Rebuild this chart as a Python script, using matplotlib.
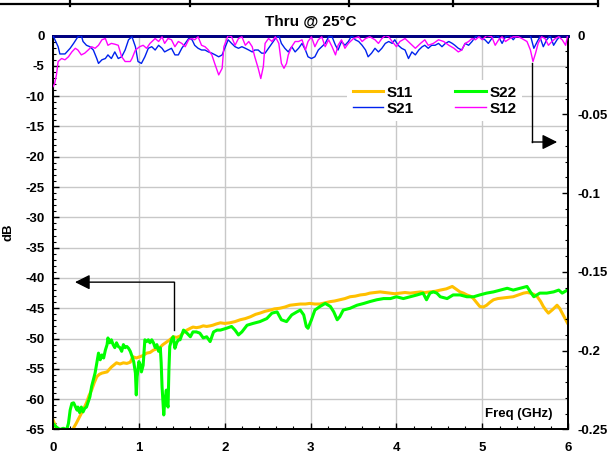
import matplotlib
matplotlib.use("Agg")
import matplotlib.pyplot as plt
from matplotlib.lines import Line2D
from matplotlib.ticker import MultipleLocator, FuncFormatter

plt.rcParams['font.family'] = ['Liberation Sans', 'DejaVu Sans']
plt.rcParams['font.weight'] = 'bold'
plt.rcParams['axes.unicode_minus'] = False

title = "Thru @ 25°C"
x_label = "Freq (GHz)"
y_label = "dB"
series_names = ["S11", "S21", "S22", "S12"]

# S11 (left axis, dB)
s11_f = [0.00, 0.03, 0.06, 0.10, 0.16, 0.23, 0.27, 0.31, 0.35, 0.39, 0.42, 0.45, 0.48, 0.51, 0.54,
         0.57, 0.60, 0.63, 0.68, 0.74, 0.78, 0.82, 0.86, 0.90, 0.93, 0.97, 1.01, 1.05, 1.09, 1.13,
         1.17, 1.21, 1.25, 1.28, 1.32, 1.36, 1.40, 1.44, 1.48, 1.52, 1.56, 1.60, 1.63, 1.67, 1.71,
         1.75, 1.79, 1.83, 1.86, 1.90, 1.95, 2.00, 2.06, 2.12, 2.18, 2.24, 2.30, 2.36, 2.41, 2.47,
         2.53, 2.58, 2.64, 2.70, 2.76, 2.82, 2.88, 2.94, 2.99, 3.05, 3.11, 3.17, 3.23, 3.28, 3.34,
         3.40, 3.46, 3.52, 3.58, 3.64, 3.69, 3.75, 3.81, 3.87, 3.93, 3.98, 4.04, 4.10, 4.16, 4.22,
         4.28, 4.33, 4.39, 4.45, 4.51, 4.58, 4.65, 4.70, 4.74, 4.78, 4.82, 4.86, 4.89, 4.93, 4.97,
         5.01, 5.05, 5.09, 5.13, 5.18, 5.24, 5.30, 5.36, 5.42, 5.48, 5.52, 5.56, 5.60, 5.64, 5.68,
         5.71, 5.74, 5.77, 5.82, 5.87, 5.90, 5.93, 5.96, 5.99]
s11_db = [-63.4, -64.5, -65.6, -66.0, -65.8, -65.0, -64.0, -62.9, -61.8, -60.6, -59.4, -58.5, -57.3,
          -56.3, -55.9, -55.7, -55.6, -55.5, -54.7, -54.0, -54.2, -54.0, -54.1, -53.9, -53.0, -53.2,
          -53.0, -52.8, -52.4, -52.3, -51.9, -51.7, -51.4, -51.0, -50.6, -50.2, -49.7, -49.8, -49.6,
          -49.0, -48.6, -48.3, -48.1, -48.2, -48.1, -47.9, -48.0, -47.9, -47.8, -47.6, -47.4, -47.5,
          -47.4, -47.2, -46.9, -46.7, -46.4, -46.0, -45.8, -45.5, -45.3, -45.1, -45.0, -44.8, -44.5,
          -44.4, -44.3, -44.3, -44.2, -44.3, -44.3, -44.1, -43.9, -43.8, -43.6, -43.4, -43.1, -43.0,
          -42.8, -42.7, -42.5, -42.4, -42.3, -42.4, -42.5, -42.6, -42.5, -42.4, -42.5, -42.4, -42.3,
          -42.4, -42.3, -42.2, -42.0, -41.8, -41.4, -41.9, -42.3, -42.5, -42.8, -43.0, -43.3, -44.0,
          -44.7, -44.8, -44.5, -44.0, -43.6, -43.4, -43.3, -43.2, -43.1, -42.8, -42.5, -42.4, -42.5,
          -42.7, -43.1, -43.9, -44.7, -45.3, -45.8, -45.2, -44.5, -45.0, -45.8, -46.6, -47.4]

# S22 (left axis, dB)
s22_f = [0.00, 0.04, 0.08, 0.12, 0.16, 0.18, 0.20, 0.22, 0.24, 0.28, 0.29, 0.31, 0.33, 0.35, 0.37,
         0.39, 0.43, 0.45, 0.47, 0.49, 0.51, 0.53, 0.55, 0.57, 0.59, 0.61, 0.63, 0.64, 0.66, 0.68,
         0.70, 0.72, 0.74, 0.76, 0.78, 0.80, 0.82, 0.84, 0.86, 0.88, 0.90, 0.92, 0.94, 0.96, 0.97,
         0.98, 1.00, 1.02, 1.03, 1.05, 1.07, 1.09, 1.11, 1.13, 1.15, 1.17, 1.19, 1.21, 1.23, 1.25,
         1.26, 1.27, 1.29, 1.30, 1.32, 1.33, 1.34, 1.35, 1.36, 1.38, 1.40, 1.42, 1.44, 1.46, 1.48,
         1.52, 1.56, 1.60, 1.63, 1.67, 1.71, 1.75, 1.79, 1.83, 1.87, 1.91, 1.95, 2.02, 2.08, 2.12,
         2.16, 2.20, 2.26, 2.33, 2.41, 2.49, 2.55, 2.61, 2.66, 2.72, 2.78, 2.84, 2.88, 2.92, 2.95,
         2.97, 3.01, 3.05, 3.11, 3.17, 3.23, 3.27, 3.31, 3.34, 3.38, 3.46, 3.54, 3.62, 3.69, 3.77,
         3.85, 3.93, 4.00, 4.08, 4.16, 4.24, 4.31, 4.35, 4.39, 4.43, 4.47, 4.51, 4.59, 4.66, 4.74,
         4.82, 4.90, 4.97, 5.05, 5.13, 5.21, 5.29, 5.36, 5.44, 5.52, 5.56, 5.60, 5.67, 5.75, 5.83,
         5.89, 5.93, 5.99]
s22_db = [-64.0, -64.6, -65.0, -64.8, -65.0, -64.0, -61.8, -60.7, -60.6, -61.8, -61.3, -62.2, -61.3,
          -62.1, -61.5, -61.3, -59.6, -57.9, -56.8, -55.7, -54.0, -52.4, -53.5, -52.7, -53.2, -51.9,
          -51.0, -49.9, -50.7, -50.2, -51.0, -51.5, -50.7, -51.3, -51.5, -52.1, -51.0, -51.5, -51.3,
          -51.6, -52.1, -52.9, -53.8, -55.7, -59.3, -56.3, -53.8, -54.4, -55.5, -54.4, -50.2, -50.5,
          -50.2, -50.7, -50.2, -50.7, -51.5, -51.0, -52.1, -51.5, -54.0, -57.9, -62.6, -60.7, -58.5,
          -60.7, -61.3, -55.2, -51.3, -50.2, -49.7, -51.6, -50.7, -50.2, -50.2, -48.6, -49.1, -49.7,
          -48.9, -48.9, -49.1, -49.9, -49.7, -50.5, -48.9, -48.6, -48.6, -48.3, -48.0, -48.6, -49.4,
          -48.9, -47.8, -47.5, -47.2, -46.7, -45.8, -45.6, -46.9, -47.2, -46.1, -45.6, -45.3, -46.1,
          -48.0, -48.3, -46.9, -45.3, -44.7, -44.2, -44.7, -45.6, -46.9, -46.4, -45.3, -45.0, -44.5,
          -44.2, -43.9, -43.6, -43.4, -43.4, -43.1, -43.4, -43.1, -42.8, -42.5, -43.6, -42.5, -42.3,
          -42.5, -43.1, -43.4, -42.8, -42.8, -43.1, -43.1, -42.8, -42.5, -42.3, -42.0, -41.7, -42.0,
          -41.7, -41.4, -42.3, -43.1, -42.5, -42.5, -42.3, -42.0, -42.5, -42.0]

# S21 (right axis)
s21_f = [0.00, 0.06, 0.08, 0.14, 0.20, 0.24, 0.29, 0.33, 0.35, 0.39, 0.43, 0.47, 0.51, 0.53, 0.57,
         0.61, 0.64, 0.68, 0.72, 0.76, 0.80, 0.84, 0.88, 0.92, 0.96, 0.99, 1.03, 1.07, 1.11, 1.15,
         1.19, 1.23, 1.27, 1.30, 1.34, 1.38, 1.42, 1.46, 1.50, 1.54, 1.58, 1.62, 1.65, 1.69, 1.73,
         1.77, 1.81, 1.85, 1.89, 1.93, 1.97, 2.00, 2.04, 2.08, 2.12, 2.16, 2.20, 2.24, 2.28, 2.32,
         2.35, 2.39, 2.43, 2.47, 2.51, 2.55, 2.59, 2.63, 2.66, 2.70, 2.74, 2.78, 2.82, 2.86, 2.90,
         2.94, 2.97, 3.01, 3.05, 3.09, 3.13, 3.17, 3.21, 3.25, 3.29, 3.32, 3.36, 3.40, 3.44, 3.48,
         3.52, 3.56, 3.60, 3.64, 3.67, 3.71, 3.75, 3.79, 3.83, 3.87, 3.91, 3.95, 3.98, 4.02, 4.06,
         4.10, 4.14, 4.18, 4.22, 4.26, 4.30, 4.33, 4.37, 4.41, 4.45, 4.49, 4.53, 4.57, 4.61, 4.65,
         4.68, 4.72, 4.76, 4.80, 4.84, 4.88, 4.92, 4.96, 4.99, 5.03, 5.07, 5.11, 5.15, 5.19, 5.23,
         5.27, 5.32, 5.36, 5.40, 5.44, 5.56, 5.60, 5.64, 5.67, 5.71, 5.75, 5.79, 5.83, 5.87, 5.91,
         6.00]
s21_val = [0.0, -0.0071, -0.0117, -0.0117, -0.0081, -0.0050, -0.0008, 0.0, -0.0038, -0.0062, -0.0071,
           -0.0092, -0.0146, -0.0177, -0.0154, -0.0146, -0.0123, -0.0146, -0.0104, -0.0146, -0.0135,
           -0.0092, -0.0027, -0.0008, -0.0071, -0.0165, -0.0177, -0.0135, -0.0081, -0.0071, -0.0092,
           -0.0062, -0.0081, -0.0104, -0.0092, -0.0081, -0.0123, -0.0123, -0.0081, -0.0050, -0.0019,
           -0.0027, -0.0062, -0.0081, -0.0092, -0.0092, -0.0104, -0.0112, -0.0123, -0.0135, -0.0123,
           -0.0081, -0.0027, -0.0050, -0.0071, -0.0081, -0.0071, -0.0081, -0.0092, -0.0104, -0.0092,
           -0.0092, -0.0112, -0.0112, -0.0081, -0.0050, -0.0019, 0.0, -0.0050, -0.0081, -0.0104,
           -0.0071, -0.0104, -0.0081, -0.0050, -0.0092, -0.0135, -0.0146, -0.0135, -0.0092, -0.0071,
           -0.0050, -0.0008, -0.0008, -0.0062, -0.0092, -0.0038, -0.0062, -0.0038, 0.0, -0.0027,
           -0.0038, -0.0062, -0.0092, -0.0135, -0.0112, -0.0081, -0.0104, -0.0081, -0.0050, -0.0038,
           -0.0050, -0.0027, -0.0062, -0.0081, -0.0092, -0.0146, -0.0104, -0.0123, -0.0092, -0.0071,
           -0.0062, -0.0081, -0.0062, -0.0062, -0.0050, -0.0071, -0.0050, -0.0038, -0.0050, -0.0062,
           -0.0081, -0.0092, -0.0050, -0.0062, -0.0038, -0.0008, 0.0, -0.0019, -0.0027, -0.0050,
           -0.0019, 0.0, -0.0008, -0.0050, -0.0008, 0.0, -0.0027, 0.0, 0.0, 0.0, -0.0081, -0.0038,
           -0.0008, -0.0071, -0.0027, 0.0, -0.0062, -0.0027, 0.0, 0.0]

# S12 (right axis)
s12_f = [0.00, 0.02, 0.04, 0.06, 0.10, 0.14, 0.18, 0.22, 0.26, 0.29, 0.33, 0.37, 0.41, 0.45, 0.49,
         0.53, 0.57, 0.61, 0.64, 0.68, 0.72, 0.76, 0.80, 0.84, 0.90, 0.92, 0.96, 1.01, 1.05, 1.09,
         1.13, 1.19, 1.23, 1.27, 1.30, 1.34, 1.38, 1.42, 1.46, 1.50, 1.54, 1.58, 1.62, 1.65, 1.69,
         1.73, 1.77, 1.81, 1.85, 1.89, 1.93, 1.97, 1.99, 2.04, 2.08, 2.12, 2.16, 2.20, 2.24, 2.28,
         2.32, 2.35, 2.39, 2.42, 2.45, 2.47, 2.51, 2.55, 2.59, 2.63, 2.66, 2.69, 2.72, 2.74, 2.78,
         2.82, 2.86, 2.90, 2.94, 2.97, 3.01, 3.05, 3.09, 3.13, 3.17, 3.21, 3.25, 3.29, 3.32, 3.36,
         3.40, 3.44, 3.50, 3.56, 3.60, 3.64, 3.69, 3.75, 3.79, 3.83, 3.87, 3.91, 3.95, 4.00, 4.04,
         4.10, 4.16, 4.22, 4.28, 4.33, 4.37, 4.43, 4.49, 4.55, 4.61, 4.67, 4.72, 4.76, 4.80, 4.84,
         4.88, 4.92, 4.96, 5.00, 5.05, 5.11, 5.15, 5.19, 5.23, 5.27, 5.32, 5.36, 5.42, 5.46, 5.52,
         5.56, 5.59, 5.62, 5.65, 5.69, 5.73, 5.77, 5.81, 5.85, 5.89, 5.93, 5.97, 5.99]
s12_val = [-0.0325, -0.0304, -0.0250, -0.0165, -0.0146, -0.0154, -0.0135, -0.0104, -0.0081, -0.0092,
           -0.0123, -0.0112, -0.0092, -0.0071, -0.0081, -0.0062, -0.0027, -0.0019, -0.0062, -0.0050,
           -0.0055, -0.0062, -0.0135, -0.0165, -0.0165, -0.0146, -0.0092, -0.0071, -0.0062, -0.0081,
           -0.0050, -0.0019, -0.0038, -0.0008, -0.0050, -0.0019, -0.0027, -0.0071, -0.0038, -0.0050,
           -0.0071, -0.0027, -0.0019, -0.0027, -0.0008, -0.0062, -0.0071, -0.0092, -0.0123, -0.0188,
           -0.0250, -0.0208, -0.0071, 0.0, -0.0008, -0.0062, -0.0019, -0.0008, -0.0062, -0.0038,
           -0.0071, -0.0135, -0.0208, -0.0273, -0.0196, -0.0050, -0.0019, -0.0038, -0.0008, -0.0050,
           -0.0177, -0.0208, -0.0177, -0.0123, -0.0071, -0.0038, -0.0038, -0.0027, -0.0092, -0.0038,
           -0.0008, -0.0071, -0.0027, -0.0008, -0.0071, -0.0027, -0.0071, -0.0123, -0.0062, -0.0027,
           -0.0081, -0.0050, -0.0019, -0.0008, -0.0038, -0.0019, -0.0008, -0.0027, -0.0050, -0.0019,
           0.0, -0.0008, -0.0038, -0.0071, -0.0038, -0.0019, -0.0050, -0.0081, -0.0050, -0.0027,
           -0.0062, -0.0050, -0.0027, -0.0038, -0.0062, -0.0081, -0.0104, -0.0092, -0.0050, -0.0038,
           -0.0019, -0.0027, -0.0008, -0.0027, 0.0, -0.0008, -0.0062, -0.0027, -0.0008, -0.0038,
           -0.0019, -0.0008, -0.0008, -0.0019, -0.0038, -0.0092, -0.0165, -0.0112, -0.0050, -0.0008,
           -0.0019, -0.0062, -0.0038, -0.0019, -0.0008, -0.0027, -0.0062, -0.0008]

colors = {"S11": "#FFC000", "S22": "#00FF00", "S21": "#0022EE", "S12": "#FF00FF"}

fig = plt.figure(figsize=(6.09, 4.53), dpi=100)
ax = fig.add_axes([0.087, 0.0519, 0.846, 0.8697])
ax.set_xlim(0, 6)
ax.set_ylim(-65, 0)
ax.xaxis.set_major_locator(MultipleLocator(1))
ax.xaxis.set_minor_locator(MultipleLocator(0.2))
ax.yaxis.set_major_locator(MultipleLocator(5))
ax.yaxis.set_minor_locator(MultipleLocator(1))
ax.grid(True, which='major', color='#C8C8C8', lw=1.0, zorder=0)
ax.set_axisbelow(True)
ax.tick_params(axis='both', which='both', direction='in', top=False, right=False,
               labelsize=9.5, colors='black')
ax.tick_params(axis='both', which='major', length=4.5, width=1.0)
ax.tick_params(axis='both', which='minor', length=2.3, width=0.8)
ax.tick_params(axis='y', pad=6)
ax.tick_params(axis='x', pad=9)
for lab in ax.get_xticklabels() + ax.get_yticklabels():
    lab.set_fontweight('bold')

l11, = ax.plot(s11_f, s11_db, color=colors["S11"], lw=2.2, zorder=3)
l22, = ax.plot(s22_f, s22_db, color=colors["S22"], lw=2.2, zorder=3)

ax2 = ax.twinx()
ax2.set_ylim(-0.25, 0)
ax2.yaxis.set_major_locator(MultipleLocator(0.05))
ax2.yaxis.set_minor_locator(MultipleLocator(0.01))
ax2.yaxis.set_major_formatter(FuncFormatter(lambda v, p: "%g" % round(v, 3) if abs(v) > 1e-9 else "0"))
ax2.tick_params(axis='y', which='both', direction='in', labelsize=9.5, pad=7)
ax2.tick_params(axis='y', which='major', length=4.5, width=1.0)
ax2.tick_params(axis='y', which='minor', length=2.3, width=0.8)
for lab in ax2.get_yticklabels():
    lab.set_fontweight('bold')

l21, = ax2.plot(s21_f, s21_val, color=colors["S21"], lw=1.0, zorder=3)
l12, = ax2.plot(s12_f, s12_val, color=colors["S12"], lw=1.0, zorder=3)

for a in (ax, ax2):
    for side in ('left', 'right', 'bottom'):
        a.spines[side].set_color('black')
        a.spines[side].set_linewidth(1.3)
    a.spines['top'].set_color('#000080')
    a.spines['top'].set_linewidth(2.0)

ax.set_title(title, fontsize=11, fontweight='bold', pad=7)
ax.set_ylabel(y_label, fontsize=9.5, fontweight='bold')
ax.yaxis.set_label_coords(-0.074, 0.5)
ax.text(0.969, 0.040, x_label, transform=ax.transAxes, ha='right', va='center',
        fontsize=9.5, fontweight='bold', zorder=5)

leg = ax2.legend([l11, l21, l22, l12], series_names, ncol=2, loc='upper left',
                 bbox_to_anchor=(0.571, 0.886), frameon=True, fancybox=False,
                 facecolor='white', edgecolor='none', framealpha=1.0,
                 prop={'weight': 'bold', 'size': 11}, handlelength=2.0,
                 handletextpad=0.25, columnspacing=2.7, labelspacing=0.12,
                 borderpad=0.35, borderaxespad=0)
leg.set_zorder(10)

# arrows (in axes fraction)
ax2.plot([0.235, 0.235], [0.2525, 0.374], color='black', lw=1.0, transform=ax2.transAxes, zorder=6, clip_on=False)
ax2.annotate('', xy=(0.0427, 0.374), xytext=(0.235, 0.374), xycoords='axes fraction',
             arrowprops=dict(arrowstyle='-|>,head_length=0.6,head_width=0.3', mutation_scale=15,
                             color='black', lw=1.0, shrinkA=0, shrinkB=0), zorder=6)
ax2.plot([0.930, 0.930], [0.930, 0.7297], color='black', lw=1.0, transform=ax2.transAxes, zorder=6, clip_on=False)
ax2.annotate('', xy=(0.9786, 0.7297), xytext=(0.930, 0.7297), xycoords='axes fraction',
             arrowprops=dict(arrowstyle='-|>,head_length=0.6,head_width=0.3', mutation_scale=15,
                             color='black', lw=1.0, shrinkA=0, shrinkB=0), zorder=6)

# partial table border at the top of the figure
H, W = 453.0, 609.0
fig.add_artist(Line2D([0, 598 / W], [1 - 3.7 / H, 1 - 3.7 / H], color='black', lw=1.6,
                      transform=fig.transFigure))
for px in [70, 190, 349, 453, 598]:
    fig.add_artist(Line2D([px / W, px / W], [1.0, 1 - 5.5 / H], color='black', lw=1.6,
                          transform=fig.transFigure))

fig.savefig("out.png", dpi=100)
